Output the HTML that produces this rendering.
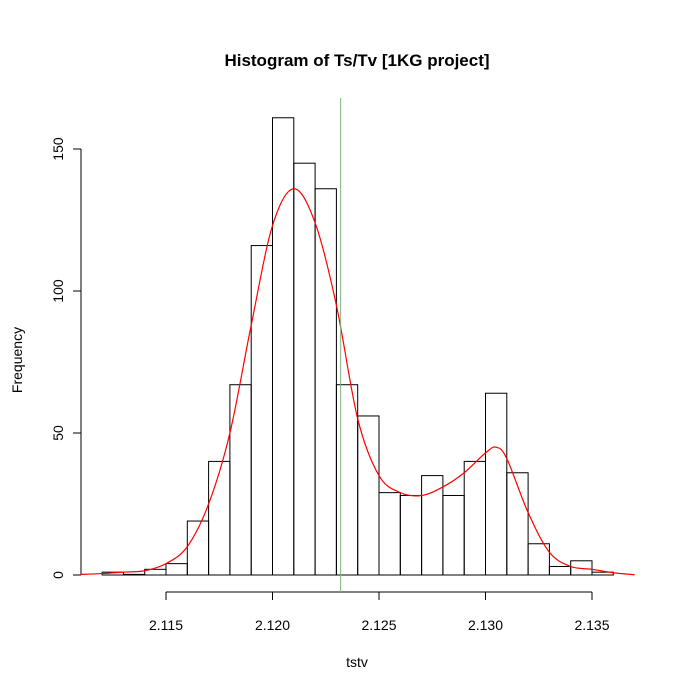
<!DOCTYPE html>
<html><head><meta charset="utf-8"><style>body{margin:0;background:#fff}svg{display:block;font-family:"Liberation Sans",Arial,sans-serif}</style></head>
<body>
<svg id="c" width="677" height="694" xmlns="http://www.w3.org/2000/svg">
<rect width="677" height="694" fill="#fff"/>
<text x="357" y="66" text-anchor="middle" font-size="17" font-weight="bold">Histogram of Ts/Tv [1KG project]</text>
<text x="357" y="667" text-anchor="middle" font-size="14">tstv</text>
<text x="22" y="360" text-anchor="middle" font-size="14" transform="rotate(-90 22 360)">Frequency</text>
<g id="bars"></g><g id="axes"></g>
</svg>
<script>
const binStarts=[2.112,2.113,2.114,2.115,2.116,2.117,2.118,2.119,2.120,2.121,2.122,2.123,2.124,2.125,2.126,2.127,2.128,2.129,2.130,2.131,2.132,2.133,2.134,2.135];
const counts=[1,0,2,4,19,40,67,116,161,145,136,67,56,29,28,35,28,40,64,36,11,3,5,1];
const binWidth=0.001;
const densX=[2.1110,2.112,2.113,2.114,2.115,2.116,2.117,2.118,2.119,2.120,2.121,2.122,2.123,2.124,2.125,2.126,2.127,2.128,2.129,2.130,2.1305,2.131,2.132,2.133,2.134,2.135,2.136,2.137];
const densY=[0.2,0.5,1,1.5,4,10,25,50,88,123,136,124,95,55,35,29,28,31,36,43,45,41,22,8,3,2,0.8,0.1];
const xTicks=[2.115,2.120,2.125,2.130,2.135];
const xTickLabels=["2.115","2.120","2.125","2.130","2.135"];
const yTicks=[0,50,100,150];
const meanLine=2.1232;
const X=v=>166+(v-2.115)*(426/0.02);
const Y=v=>575-v*(426/150);
const NS="http://www.w3.org/2000/svg";
const svg=document.getElementById('c'),bars=document.getElementById('bars'),axes=document.getElementById('axes');
function mk(tag,at,parent){const e=document.createElementNS(NS,tag);for(const k in at)e.setAttribute(k,at[k]);parent.appendChild(e);return e;}
binStarts.forEach((b,i)=>{
 const h=Math.max(Y(0)-Y(counts[i]),0.6);
 const r=mk('rect',{x:X(b),y:Y(0)-h,width:X(b+binWidth)-X(b),height:h,fill:'none',stroke:'#000','stroke-width':1},bars);
 
 
});
let pts=densX.map((x,i)=>[X(x),Y(densY[i])]);
let d='M'+pts[0][0]+','+pts[0][1];
for(let i=0;i<pts.length-1;i++){const p0=pts[Math.max(0,i-1)],p1=pts[i],p2=pts[i+1],p3=pts[Math.min(pts.length-1,i+2)];
 d+=` C${p1[0]+(p2[0]-p0[0])/6},${p1[1]+(p2[1]-p0[1])/6} ${p2[0]-(p3[0]-p1[0])/6},${p2[1]-(p3[1]-p1[1])/6} ${p2[0]},${p2[1]}`;}
const dc=mk('path',{d:d,fill:'none',stroke:'#f00','stroke-width':1.2},svg);


const ml=mk('line',{x1:X(meanLine),x2:X(meanLine),y1:98,y2:592,stroke:'#7fb27f','stroke-width':1},svg);


const xa=mk('line',{x1:X(xTicks[0]),x2:X(xTicks[xTicks.length-1]),y1:592,y2:592,stroke:'#000'},axes);


xTicks.forEach((t,i)=>{mk('line',{x1:X(t),x2:X(t),y1:592,y2:600,stroke:'#000'},axes);
 const tx=mk('text',{x:X(t),y:630,'text-anchor':'middle','font-size':14},axes);tx.textContent=xTickLabels[i];
 
 });
const ya=mk('line',{x1:81,x2:81,y1:Y(yTicks[0]),y2:Y(yTicks[yTicks.length-1]),stroke:'#000'},axes);


yTicks.forEach(t=>{mk('line',{x1:73,x2:81,y1:Y(t),y2:Y(t),stroke:'#000'},axes);
 const tx=mk('text',{x:63,y:Y(t),'text-anchor':'middle','font-size':14,transform:`rotate(-90 63 ${Y(t)})`},axes);tx.textContent=t;
 
 });
</script>
</body></html>
